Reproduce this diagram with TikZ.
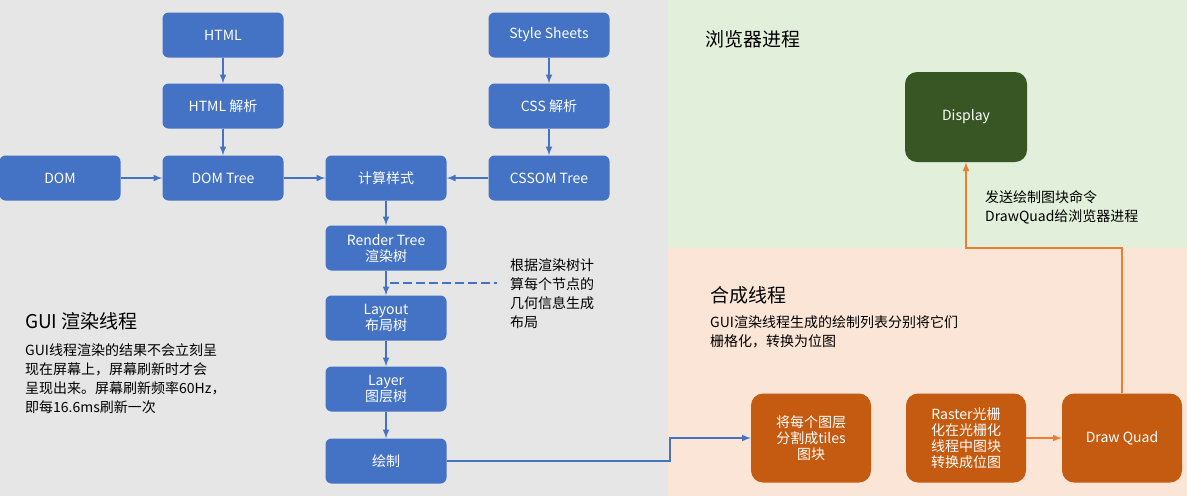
\documentclass[tikz,border=0pt]{standalone}
\usepackage{fontspec}
\setmainfont{Noto Sans CJK SC}
\begin{document}
\begin{tikzpicture}[x=1pt,y=-1pt,
 bx/.style={rounded corners=6pt,fill=blue!55!cyan!60!black,fill=bbl,draw=none,text=white,minimum width=121pt,minimum height=45pt,align=center,font=\fontsize{14}{16}\selectfont,inner sep=1pt},
 ob/.style={bx,fill=obr,minimum width=120pt,minimum height=89pt,rounded corners=12pt},
 ar/.style={-latex,line width=2pt,draw=bbl},
 oar/.style={-latex,line width=2pt,draw=oln},
 tx/.style={anchor=north west,align=left,inner sep=0pt,font=\fontsize{14}{19}\selectfont}]
\definecolor{bbl}{HTML}{4472C4}
\definecolor{obr}{HTML}{C55A11}
\definecolor{oln}{HTML}{ED7D31}
\definecolor{gbg}{HTML}{E6E6E6}
\definecolor{grn}{HTML}{E2EFDA}
\definecolor{pch}{HTML}{FBE5D6}
\definecolor{dg}{HTML}{375623}
\useasboundingbox (0,0) rectangle (1187,496);
\fill[gbg] (0,0) rectangle (668,496);
\fill[grn] (668,0) rectangle (1187,248);
\fill[pch] (668,248) rectangle (1187,496);
\node[bx] (html) at (223,35) {HTML};
\node[bx] (htmlp) at (223,106) {HTML 解析};
\node[bx] (domt) at (223,178) {DOM Tree};
\node[bx] (dom) at (60,178) {DOM};
\node[bx] (ss) at (549,35) {Style Sheets};
\node[bx] (cssp) at (549,106) {CSS 解析};
\node[bx] (cssom) at (549,178) {CSSOM Tree};
\node[bx] (calc) at (386,178) {计算样式};
\node[bx] (rt) at (386,248) {Render Tree\\渲染树};
\node[bx] (lay) at (386,318) {Layout\\布局树};
\node[bx] (lyr) at (386,389) {Layer\\图层树};
\node[bx] (paint) at (386,461) {绘制};
\node[bx,fill=dg,minimum width=122pt,minimum height=90pt,rounded corners=12pt] (disp) at (966,117) {Display};
\node[ob] (tiles) at (811,438) {将每个图层\\分割成tiles\\图块};
\node[ob] (raster) at (966,438) {Raster光栅\\化在光栅化\\线程中图块\\转换成位图};
\node[ob] (dq) at (1122,438) {Draw Quad};
\draw[ar] (html) -- (htmlp);
\draw[ar] (htmlp) -- (domt);
\draw[ar] (dom) -- (domt);
\draw[ar] (ss) -- (cssp);
\draw[ar] (cssp) -- (cssom);
\draw[ar] (domt) -- (calc);
\draw[ar] (cssom) -- (calc);
\draw[ar] (calc) -- (rt);
\draw[ar] (rt) -- (lay);
\draw[ar] (lay) -- (lyr);
\draw[ar] (lyr) -- (paint);
\draw[line width=2pt,draw=bbl,dashed,dash pattern=on 9pt off 4pt] (390,283) -- (497,283);
\draw[ar] (paint.east) -- (670,461) -- (670,438) -- (tiles.west);
\draw[oar] (raster) -- (dq);
\draw[oar] (dq.north) -- (1122,248) -- (966,248) -- (disp.south);
\node[tx] at (510,258) {根据渲染树计\\算每个节点的\\几何信息生成\\布局};
\node[tx,font=\fontsize{19}{22}\selectfont] at (25,312) {GUI 渲染线程};
\node[tx] at (25,343) {GUI线程渲染的结果不会立刻呈\\现在屏幕上，屏幕刷新时才会\\呈现出来。屏幕刷新频率60Hz，\\即每16.6ms刷新一次};
\node[tx,font=\fontsize{19}{22}\selectfont] at (705,30) {浏览器进程};
\node[tx] at (985,190) {发送绘制图块命令\\DrawQuad给浏览器进程};
\node[tx,font=\fontsize{19}{22}\selectfont] at (710,286) {合成线程};
\node[tx] at (710,315) {GUI渲染线程生成的绘制列表分别将它们\\栅格化，转换为位图};
\end{tikzpicture}
\end{document}
